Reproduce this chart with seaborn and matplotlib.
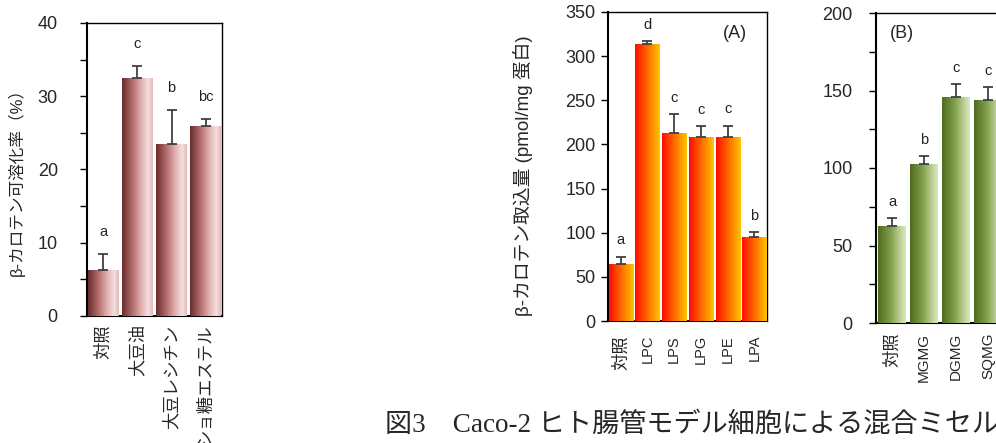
import numpy as np
import pandas as pd
import matplotlib
matplotlib.use("Agg")
import matplotlib.pyplot as plt
from matplotlib.colors import LinearSegmentedColormap
from matplotlib.ticker import MultipleLocator
import seaborn as sns

# === Data ===
sol_labels = ["対照", "大豆油", "大豆レシチン", "ショ糖エステル"]
sol_mean = [6.3, 32.5, 23.5, 25.9]
sol_sd = [2.2, 1.6, 4.6, 1.0]
sol_letters = ["a", "c", "b", "bc"]

lyso_labels = ["対照", "LPC", "LPS", "LPG", "LPE", "LPA"]
lyso_mean = [64.2, 313.3, 212.5, 208.8, 208.8, 95.5]
lyso_sd = [8.3, 3.7, 21.9, 11.7, 12.4, 4.9]
lyso_letters = ["a", "d", "c", "c", "c", "b"]

glyco_labels = ["対照", "MGMG", "DGMG", "SQMG"]
glyco_mean = [62.9, 102.6, 145.9, 144.0]
glyco_sd = [4.6, 4.9, 8.2, 8.2]
glyco_letters = ["a", "b", "c", "c"]

# === Styles ===
sns.set_style("white")
plt.rcParams["font.family"] = ["Liberation Sans", "Noto Sans CJK JP"]

cmap_sol = LinearSegmentedColormap.from_list(
    "sol", [(0, "#6a2a2a"), (0.35, "#b57070"), (0.6, "#e0abab"), (0.85, "#f4e0e0"), (1, "#e4b6b6")])
cmap_lyso = LinearSegmentedColormap.from_list(
    "lyso", [(0, "#ff0a00"), (0.5, "#ff6a00"), (1, "#ffc600")])
cmap_glyco = LinearSegmentedColormap.from_list(
    "glyco", [(0, "#4d6a20"), (0.45, "#80a04a"), (0.85, "#c6d7a2"), (1, "#dde7c6")])

W, H = 996, 443


def px_axes(x0, x1, top, bot):
    return [x0 / W, (H - bot) / H, (x1 - x0) / W, (bot - top) / H]


def draw_panel(ax, labels, mean, sd, letters, cmap, ymax, major, minor,
               width, xlim, letter_pad, tick_pad, xpad, latin_size):
    df = pd.DataFrame({"group": labels, "value": mean})
    sns.barplot(data=df, x="group", y="value", order=labels, color=cmap(0.5),
                width=width, errorbar=None, saturation=1, ax=ax, zorder=2)

    # horizontal gradient fill clipped to each bar
    grad = np.linspace(0, 1, 256).reshape(1, -1)
    for patch in list(ax.patches):
        x0, y0 = patch.get_x(), patch.get_y()
        w, h = patch.get_width(), patch.get_height()
        im = ax.imshow(grad, extent=[x0, x0 + w, y0, y0 + h], cmap=cmap,
                       aspect="auto", zorder=3, interpolation="bicubic")
        im.set_clip_path(patch)

    xs = np.arange(len(labels))
    ax.errorbar(xs, mean, yerr=[np.zeros(len(sd)), sd], fmt="none",
                ecolor="#404040", elinewidth=1.3, capsize=3.5, capthick=1.3, zorder=4)

    for i, lt in enumerate(letters):
        ax.annotate(lt, (i, mean[i] + sd[i]), xytext=(0, letter_pad),
                    textcoords="offset points", ha="center", va="baseline",
                    fontsize=10.5, color="#222222")

    ax.set_xlim(*xlim)
    ax.set_ylim(0, ymax)
    ax.yaxis.set_major_locator(MultipleLocator(major))
    if minor:
        ax.yaxis.set_minor_locator(MultipleLocator(minor))
    ax.tick_params(axis="y", which="both", direction="out", length=5, width=1,
                   left=True, labelsize=13, pad=tick_pad, color="black")
    ax.tick_params(axis="x", length=0, pad=xpad, labelrotation=90)
    for lab in ax.get_xticklabels():
        txt = lab.get_text()
        lab.set_fontsize(12.5 if any(ord(c) > 255 for c in txt) else latin_size)
    ax.set_xlabel("")
    ax.set_ylabel("")
    for side in ["top", "right"]:
        ax.spines[side].set_visible(True)
        ax.spines[side].set_linewidth(1.0)
        ax.spines[side].set_color("black")
    for side in ["left", "bottom"]:
        ax.spines[side].set_linewidth(1.5)
        ax.spines[side].set_color("black")


fig = plt.figure(figsize=(W / 100, H / 100), dpi=100)

ax1 = fig.add_axes(px_axes(87, 222, 23, 316))
draw_panel(ax1, sol_labels, sol_mean, sol_sd, sol_letters, cmap_sol,
           40, 10, 5, 0.9, (-0.48, 3.48), 13, 16, 6, 11)
ax1.set_ylabel("β-カロテン可溶化率（%）", fontsize=12)
ax1.yaxis.set_label_coords(-0.46, 0.47)

ax2 = fig.add_axes(px_axes(608, 767, 12, 321))
draw_panel(ax2, lyso_labels, lyso_mean, lyso_sd, lyso_letters, cmap_lyso,
           350, 50, None, 0.9, (-0.47, 5.47), 9, 4, 10, 10.5)
ax2.set_ylabel("β-カロテン取込量 (pmol/mg 蛋白)", fontsize=13.5)
ax2.yaxis.set_label_coords(-0.47, 0.47)
ax2.text(0.8, 0.93, "(A)", transform=ax2.transAxes, ha="center", va="center", fontsize=13)

ax3 = fig.add_axes(px_axes(876, 1004, 13, 323))
draw_panel(ax3, glyco_labels, glyco_mean, glyco_sd, glyco_letters, cmap_glyco,
           200, 50, 25, 0.875, (-0.5, 3.5), 9, 12, 7, 11)
ax3.text(0.2, 0.935, "(B)", transform=ax3.transAxes, ha="center", va="center", fontsize=13)

fig.text(385 / W, 1 - 425 / H, "図3　Caco-2 ヒト腸管モデル細胞による混合ミセル",
         ha="left", va="center", fontsize=19.5,
         family=["Liberation Serif", "Noto Sans CJK JP"])

fig.savefig("out.png", dpi=100)
plt.close(fig)
